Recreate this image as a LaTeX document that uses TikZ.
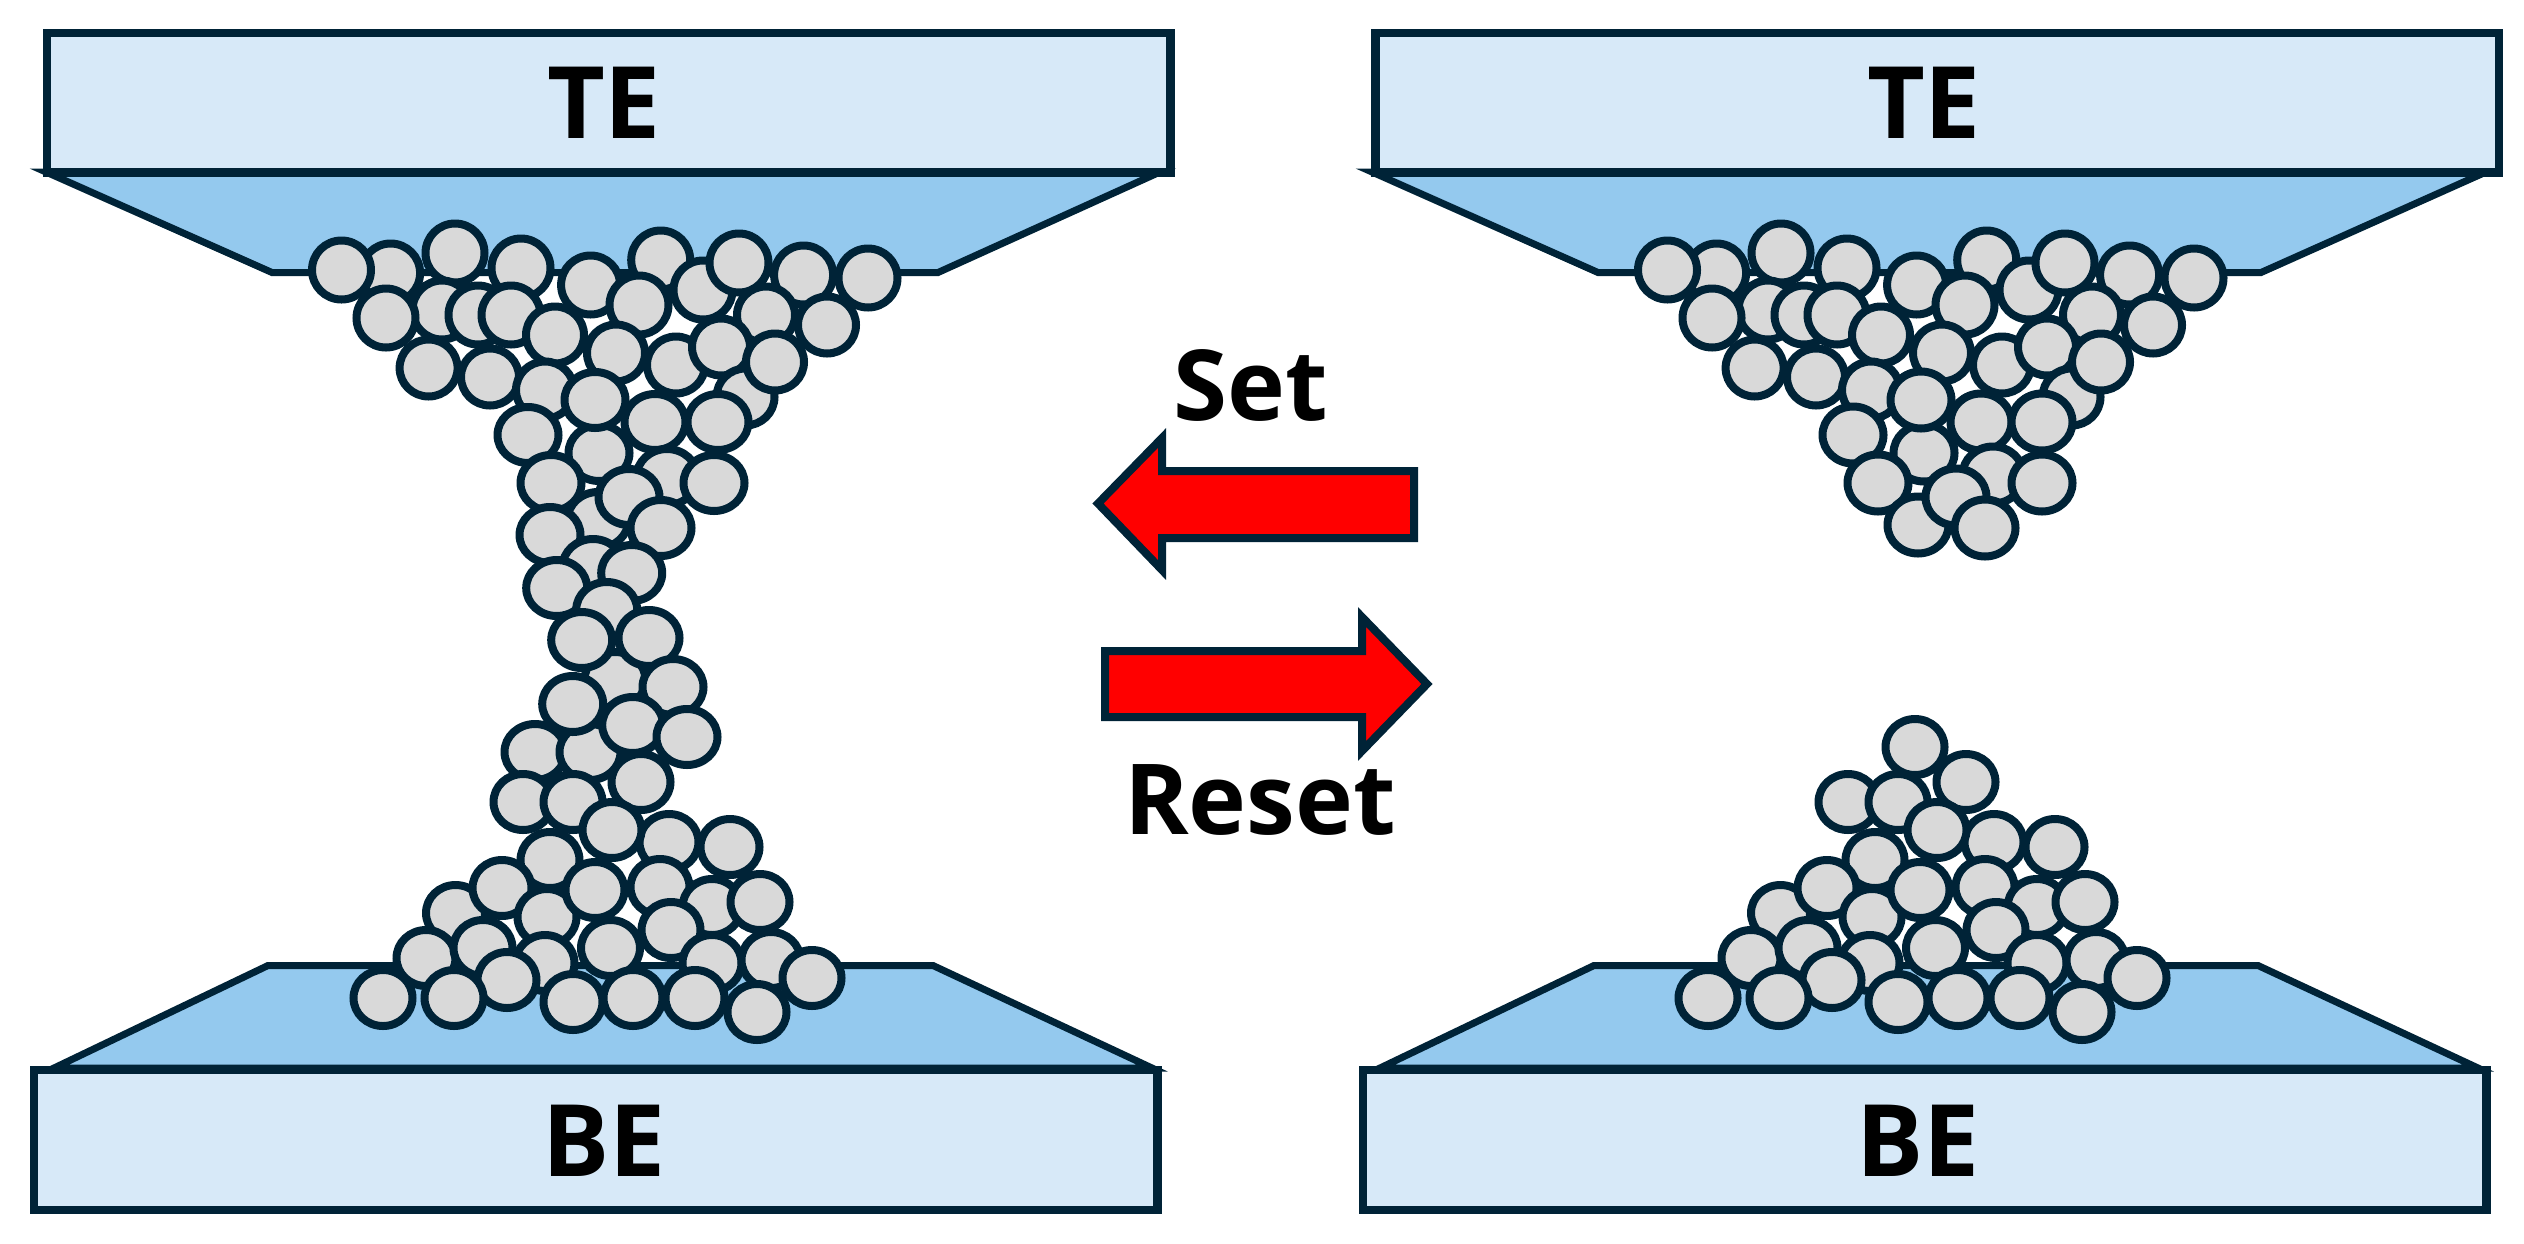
\documentclass[tikz,border=0pt]{standalone}
\usepackage{fontspec}
\setmainfont{Open Sans}
\definecolor{navy}{HTML}{002337}
\definecolor{ballgray}{HTML}{D9D9D9}
\definecolor{capblue}{HTML}{D7E9F8}
\definecolor{wedgeblue}{HTML}{94C9EE}
\newcommand{\balls}[3]{\foreach \bx/\by in {#3} \draw[ball] (\bx,\by) ellipse[x radius=#1,y radius=#2];}
\newcommand{\topballs}{\balls{29.5}{29.5}{390.6/273,341.5/270,455/253,521/268,660.7/260,703/290,590.6/285,739/263,639/305,803.6/275,868/278,442/310,478/315,511/315,386/318}\balls{29}{28.5}{428.6/368,490/377,555/335,766/315,827/325,616/353,676/365,721/347,745.5/397,775/362,545/390}}
\newcommand{\bottomballs}{\balls{29.5}{28}{523/802,573/802,641/782,669/842,550/860,612/830,730/847,455.5/913,502/888,547/917,595/890,660/887,426/958,712/907,760/902,671/930,483/948,545/963,610.5/948,712/963,771/960,507/980,812/978,383/998,454/998,573/1002,633/998,695/998,757/1012}}
\tikzset{
  x=1pt,y=-1pt,
  ball/.style={draw=navy,fill=ballgray,line width=8pt},
  plate/.style={draw=navy,fill=capblue,line width=8.5pt},
  wedge/.style={draw=navy,fill=wedgeblue,line width=7pt,miter limit=20},
  platelabel/.style={font=\bfseries\fontsize{100}{100}\selectfont,text=black},
  armlabel/.style={font=\bfseries\fontsize{98}{98}\selectfont,text=black},
  redarrow/.style={draw=navy,fill=red,line width=8pt,miter limit=10}
}
\begin{document}
\begin{tikzpicture}
\useasboundingbox (0,0) rectangle (2524,1243);
% left device
\draw[wedge] (46,172) -- (272,272.5) -- (938,272.5) -- (1160,172) -- cycle;
\draw[wedge] (54,1068) -- (268,965.5) -- (933,965.5) -- (1152,1068) -- cycle;
\draw[plate] (47,33) rectangle (1170.5,172.5);
\draw[plate] (34,1070) rectangle (1157.5,1210);
\node[platelabel] (teL) at (604,103) {TE};
\node[platelabel] (beL) at (604,1141) {BE};
% right device
\draw[wedge] (1372,172) -- (1598,272.5) -- (2261,272.5) -- (2486,172) -- cycle;
\draw[wedge] (1380,1068) -- (1594,965.5) -- (2258,965.5) -- (2478,1068) -- cycle;
\draw[plate] (1375.5,33) rectangle (2499,172.5);
\draw[plate] (1363,1070) rectangle (2486.5,1210);
\node[platelabel] (teR) at (1924,103) {TE};
\node[platelabel] (beR) at (1918,1141) {BE};
% left filament
\topballs
\balls{30.5}{28}{599/453,595/400,655/422,718/422,528/435,667/477,714/483,551/483,598/520,629/497,661/528,550/535,593/567,631.7/573,556.7/588,606.7/610,615/680,581.7/640,649/638,673/687,535/752,590/752,572.7/704,632.7/725,687/737}
\bottomballs
% right filament
\begin{scope}[xshift=1326pt]
\topballs
\balls{30.5}{28.5}{598/453,595/400,655/422,716/422,527/435,667/475,716/483,552/483,592/525,630/497,659/528}
\end{scope}
\begin{scope}[xshift=1325pt]
\balls{29.5}{28}{590/747}
\bottomballs
\end{scope}
% arrows
\draw[redarrow] (1414,471) -- (1162,471) -- (1162,438) -- (1098,503.5) -- (1162,570) -- (1162,538) -- (1414,538) -- cycle;
\draw[redarrow] (1105,651) -- (1362,651) -- (1362,617) -- (1427,684) -- (1362,751) -- (1362,717) -- (1105,717) -- cycle;
\node[armlabel] (setL) at (1251,385) {Set};
\node[armlabel] (resetL) at (1260,800) {Reset};
\end{tikzpicture}
\end{document}
